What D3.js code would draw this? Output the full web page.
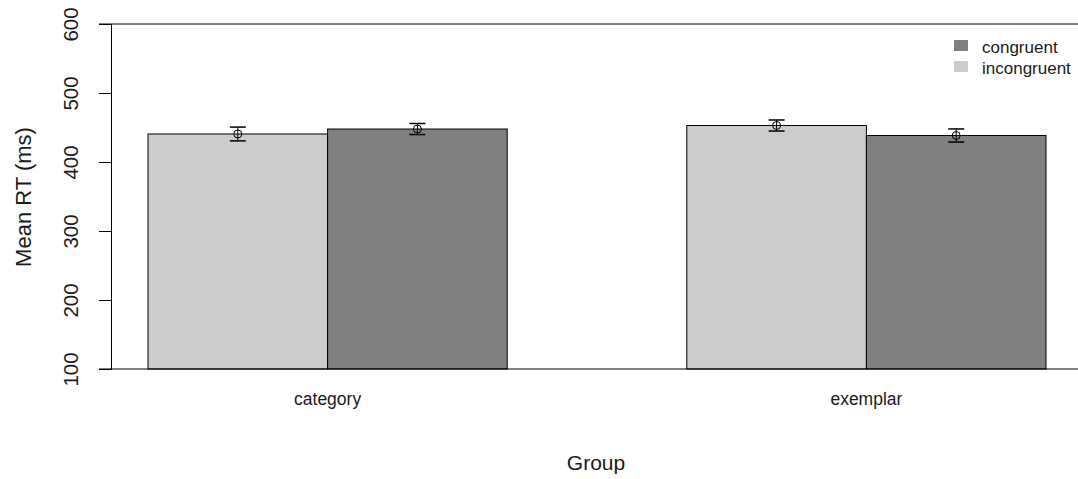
<!DOCTYPE html>
<meta charset="utf-8">
<style>
body { margin: 0; background: #fff; }
svg text { font-family: "Liberation Sans", Arial, sans-serif; fill: #1a1a1a; }
</style>
<body>
<script src="https://d3js.org/d3.v7.min.js"></script>
<script>
var groups = ["category", "exemplar"];
var series = ["incongruent", "congruent"];
var legendOrder = ["congruent", "incongruent"];
var incongruent = [440.6, 452.9];
var congruent = [447.8, 438.4];
var incongruentErr = [10, 8];
var congruentErr = [8, 9.5];
var yTicks = [100, 200, 300, 400, 500, 600];

var fill = { congruent: "#808080", incongruent: "#cccccc" };

var width = 1078, height = 479;
var svg = d3.select("body").append("svg")
    .attr("width", width).attr("height", height);

var y = d3.scaleLinear().domain([100, 600]).range([369, 24]);
var x = d3.scaleBand().domain(groups).range([148, 1046])
    .paddingInner(1 / 3).paddingOuter(0);
var xs = d3.scaleBand().domain(series).range([0, x.bandwidth()]);

var rows = [];
groups.forEach(function(g, i) {
    rows.push({ group: g, key: "incongruent", value: incongruent[i], err: incongruentErr[i] });
    rows.push({ group: g, key: "congruent", value: congruent[i], err: congruentErr[i] });
});

// bars
svg.selectAll(".bar").data(rows).enter().append("rect")
    .attr("class", "bar")
    .attr("x", function(d) { return x(d.group) + xs(d.key); })
    .attr("y", function(d) { return y(d.value); })
    .attr("width", xs.bandwidth())
    .attr("height", function(d) { return y(100) - y(d.value); })
    .attr("fill", function(d) { return fill[d.key]; })
    .attr("stroke", "#000")
    .attr("stroke-width", 1);

// top / bottom frame lines
svg.append("line").attr("x1", 99).attr("x2", 1078)
    .attr("y1", y(600)).attr("y2", y(600)).attr("stroke", "#000");
svg.append("line").attr("x1", 99).attr("x2", 1078)
    .attr("y1", y(100)).attr("y2", y(100)).attr("stroke", "#000");

// y axis
var yAxis = svg.append("g")
    .attr("transform", "translate(111,0)")
    .call(d3.axisLeft(y).tickValues(yTicks).tickSize(12).tickPadding(0).tickFormat(d3.format("d")));
yAxis.select(".domain").attr("stroke", "#000");
yAxis.selectAll(".tick line").attr("stroke", "#000");
yAxis.selectAll(".tick text")
    .attr("x", null).attr("dy", null)
    .attr("transform", "translate(-38,0) rotate(-90)")
    .attr("text-anchor", "middle")
    .attr("dominant-baseline", "middle")
    .style("font-size", "20.5px");

// error bars
var eb = svg.selectAll(".eb").data(rows).enter().append("g")
    .attr("transform", function(d) { return "translate(" + (x(d.group) + xs(d.key) + xs.bandwidth() / 2) + ",0)"; });
eb.append("line").attr("x1", 0).attr("x2", 0)
    .attr("y1", function(d) { return y(d.value + d.err); })
    .attr("y2", function(d) { return y(d.value - d.err); })
    .attr("stroke", "#000");
eb.append("line").attr("x1", -8).attr("x2", 8)
    .attr("y1", function(d) { return y(d.value + d.err); })
    .attr("y2", function(d) { return y(d.value + d.err); })
    .attr("stroke", "#000").attr("stroke-width", 1.5);
eb.append("line").attr("x1", -8).attr("x2", 8)
    .attr("y1", function(d) { return y(d.value - d.err); })
    .attr("y2", function(d) { return y(d.value - d.err); })
    .attr("stroke", "#000").attr("stroke-width", 1.5);
eb.append("circle").attr("cx", 0)
    .attr("cy", function(d) { return y(d.value); })
    .attr("r", 4).attr("fill", "none").attr("stroke", "#000");

// group labels
svg.selectAll(".glab").data(groups).enter().append("text")
    .attr("x", function(d) { return x(d) + x.bandwidth() / 2; })
    .attr("y", 405)
    .attr("text-anchor", "middle")
    .style("font-size", "17.5px")
    .text(function(d) { return d; });

// axis titles
svg.append("text").attr("x", 596).attr("y", 470)
    .attr("text-anchor", "middle").style("font-size", "21px").text("Group");
svg.append("text").attr("transform", "translate(31,197) rotate(-90)")
    .attr("text-anchor", "middle").style("font-size", "22px").text("Mean RT (ms)");

// legend
var lg = svg.selectAll(".lg").data(legendOrder).enter().append("g")
    .attr("transform", function(d, i) { return "translate(954," + (40 + i * 21) + ")"; });
lg.append("rect").attr("width", 14).attr("height", 11)
    .attr("fill", function(d) { return fill[d]; });
lg.append("text").attr("x", 28).attr("y", 13)
    .style("font-size", "17px").text(function(d) { return d; });
</script>
</body>
